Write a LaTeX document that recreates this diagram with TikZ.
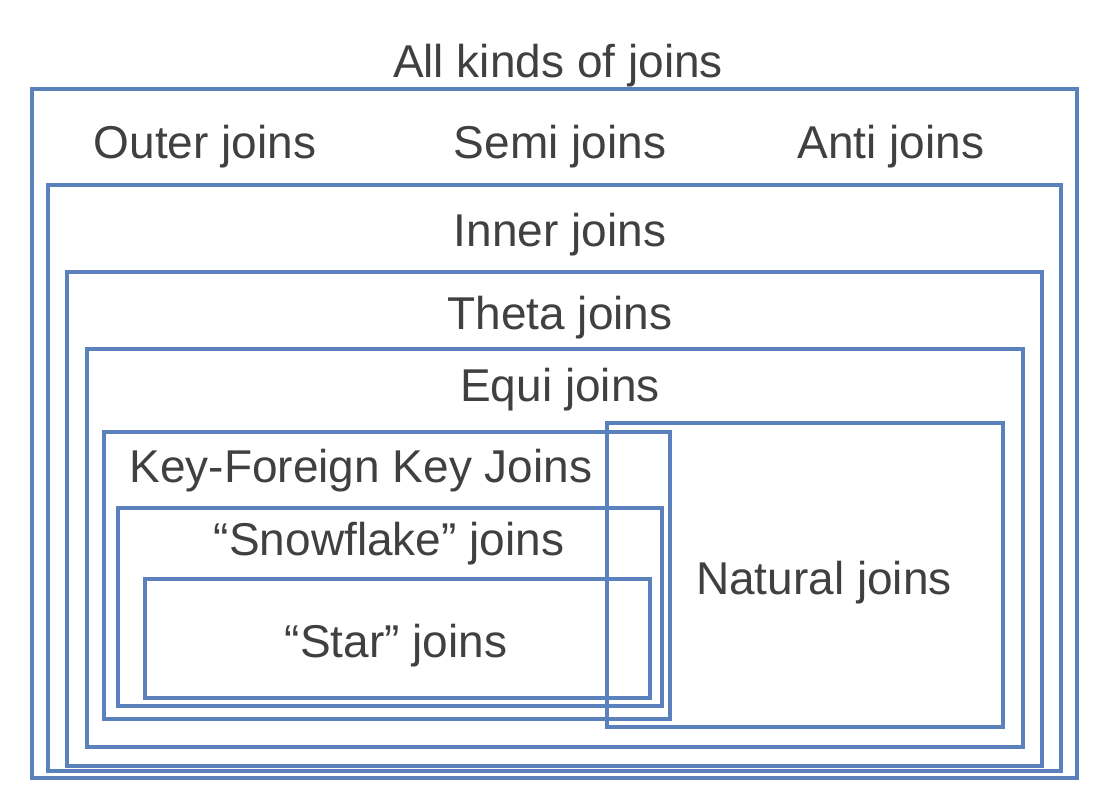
\documentclass[tikz,border=0pt]{standalone}
\usepackage{fontspec}
\setmainfont{Liberation Sans}
\usepackage{tikz}

\definecolor{setblue}{HTML}{5A81BB}
\definecolor{labelgray}{HTML}{404040}
\tikzset{
  setbox/.style={draw=setblue, line width=3.8pt},
  setlabel/.style={text=labelgray, font=\fontsize{46}{55}\selectfont, inner sep=0pt, anchor=base}
}

\begin{document}
\begin{tikzpicture}[x=1pt,y=-1pt]
\useasboundingbox (0,0) rectangle (1120,809);

% nested sets: left/top/right/bottom
\foreach \lx/\ty/\rx/\by in {32/89/1077/778, 48/185/1061/771, 67/272/1042/766,
  87/349/1023/747, 104/432/670/719, 118/508/662/706, 145/579/650/698} {
\draw[setbox] (\lx,\ty) rectangle (\rx,\by);
}
\draw[setbox] (607,423) rectangle (1003,727);

\node[setlabel] (allkinds) at (558,77) {All kinds of joins};
\node[setlabel] (outer) at (205,158) {Outer joins};
\node[setlabel] (semi) at (560,158) {Semi joins};
\node[setlabel] (anti) at (891,158) {Anti joins};
\node[setlabel] (inner) at (560,246) {Inner joins};
\node[setlabel] (theta) at (560,329) {Theta joins};
\node[setlabel] (equi) at (560,401) {Equi joins};
\node[setlabel] (keyfk) at (361,482) {Key-Foreign Key Joins};
\node[setlabel] (snowflake) at (389,555) {“Snowflake” joins};
\node[setlabel] (star) at (396,657) {“Star” joins};
\node[setlabel] (natural) at (824,594) {Natural joins};

\end{tikzpicture}
\end{document}
